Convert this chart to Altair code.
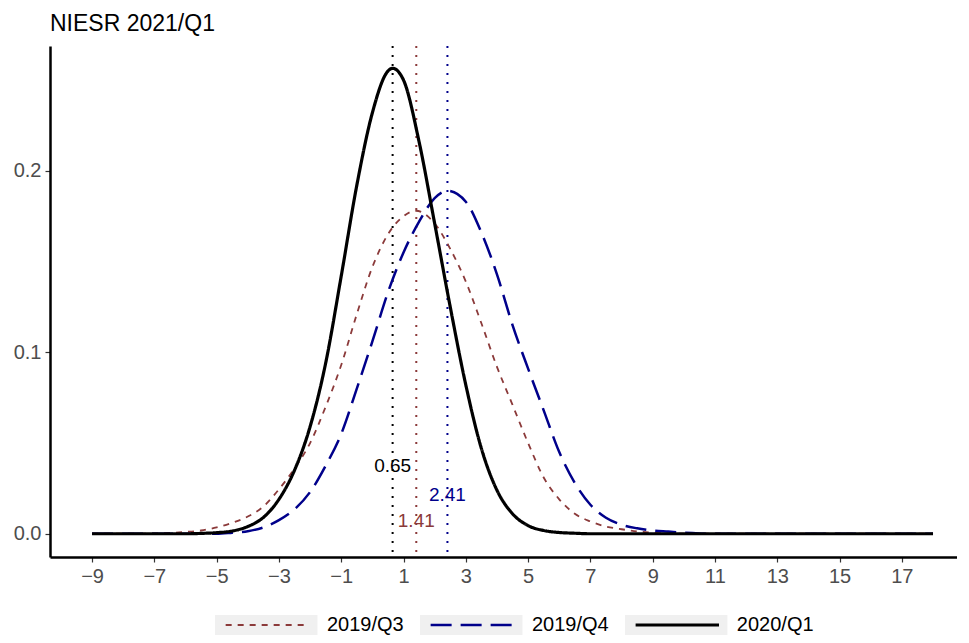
import altair as alt
import pandas as pd

# ---- data ----
series_names = ["2019/Q3", "2019/Q4", "2020/Q1"]

q3_x = [-9, -7.5, -7, -6.5, -6, -5.5, -5, -4.5, -4, -3.5, -3, -2.5, -2, -1.5, -1, -0.5, 0, 0.5, 1, 1.4,
        2, 2.5, 3, 3.5, 4, 4.5, 5, 5.5, 6, 6.5, 7, 7.5, 8, 8.5, 9, 9.5, 10, 18]
q3_y = [0, 0.0001, 0.0002, 0.0005, 0.0010, 0.0018, 0.0035, 0.0060, 0.0095, 0.0150, 0.0245, 0.0360, 0.0500,
        0.0700, 0.0930, 0.1210, 0.1470, 0.1650, 0.1750, 0.1780, 0.1710, 0.1570, 0.1390, 0.1160, 0.0920,
        0.0710, 0.0500, 0.0310, 0.0190, 0.0110, 0.0068, 0.0040, 0.0025, 0.0013, 0.0006, 0.0002, 0, 0]

q4_x = [-9, -5, -4.5, -4, -3.5, -3, -2.5, -2, -1.5, -1, -0.5, 0, 0.5, 1, 1.5, 2, 2.41, 3, 3.5, 4, 4.5,
        5, 5.5, 6, 6.5, 7, 7.5, 8, 8.5, 9, 9.5, 10, 10.5, 11, 18]
q4_y = [0, 0, 0.0006, 0.0014, 0.0035, 0.0075, 0.0135, 0.0230, 0.0375, 0.0550, 0.0800, 0.1060, 0.1330,
        0.1550, 0.1720, 0.1850, 0.1890, 0.1830, 0.1660, 0.1430, 0.1150, 0.0910, 0.0680, 0.0450, 0.0280,
        0.0160, 0.0088, 0.0050, 0.0030, 0.0018, 0.0012, 0.0006, 0.0002, 0, 0]

q1_x = [-9, -6, -5.5, -5, -4.5, -4, -3.5, -3, -2.5, -2, -1.5, -1, -0.5, 0, 0.5, 0.65, 1, 1.5, 2, 2.5,
        3, 3.5, 4, 4.5, 5, 5.5, 6, 6.5, 7, 18]
q1_y = [0, 0, 0.0002, 0.0006, 0.0015, 0.0040, 0.0090, 0.0190, 0.0350, 0.0590, 0.0940, 0.1420, 0.1920,
        0.2320, 0.2550, 0.2565, 0.2500, 0.2160, 0.1710, 0.1250, 0.0820, 0.0470, 0.0240, 0.0110, 0.0045,
        0.0018, 0.0007, 0.0003, 0, 0]

mode_values = [1.41, 2.41, 0.65]
mode_labels = ["1.41", "2.41", "0.65"]
label_heights = [0.0068, 0.0214, 0.0375]

x_ticks = list(range(-9, 18, 2))
y_ticks = [0.0, 0.1, 0.2]

# ---- styles ----
colors = ["#8B3A3A", "#00008B", "#000000"]
dashes = [[6, 6], [21, 9], [1, 0]]
widths = [1.8, 3.2, 3.8]
FONT = "Liberation Sans"

curves = pd.concat([
    pd.DataFrame({"x": q3_x, "y": q3_y, "series": series_names[0]}),
    pd.DataFrame({"x": q4_x, "y": q4_y, "series": series_names[1]}),
    pd.DataFrame({"x": q1_x, "y": q1_y, "series": series_names[2]}),
], ignore_index=True)

modes = pd.DataFrame({"series": series_names, "mode": mode_values,
                      "label": mode_labels, "ly": label_heights})

legend_df = pd.DataFrame({"series": series_names, "idx": list(range(len(series_names)))})

color_scale = alt.Scale(domain=series_names, range=colors)
dash_scale = alt.Scale(domain=series_names, range=dashes)
width_scale = alt.Scale(domain=series_names, range=widths)

xscale = alt.Scale(domain=[-10.35, 18.77], nice=False, zero=False)
yscale = alt.Scale(domain=[-0.0128, 0.2688], nice=False, zero=False)

xaxis = alt.Axis(values=x_ticks, format="d", title=None, grid=False)
yaxis = alt.Axis(values=y_ticks, format=".1f", title=None, grid=False)

base_x = alt.X("x:Q", scale=xscale, axis=xaxis)

vlines = alt.Chart(modes).mark_rule(strokeDash=[2, 7], strokeWidth=2).encode(
    x=alt.X("mode:Q", scale=xscale, axis=xaxis),
    color=alt.Color("series:N", scale=color_scale, legend=None),
)

lines = alt.Chart(curves).mark_line(interpolate="monotone").encode(
    x=base_x,
    y=alt.Y("y:Q", scale=yscale, axis=yaxis),
    color=alt.Color("series:N", scale=color_scale, legend=None),
    strokeDash=alt.StrokeDash("series:N", scale=dash_scale, legend=None),
    strokeWidth=alt.StrokeWidth("series:N", scale=width_scale, legend=None),
    order=alt.Order("x:Q"),
)

labels = alt.Chart(modes).mark_text(fontSize=19, font=FONT, baseline="middle").encode(
    x=alt.X("mode:Q", scale=xscale, axis=xaxis),
    y=alt.Y("ly:Q", scale=yscale, axis=yaxis),
    text="label:N",
    color=alt.Color("series:N", scale=color_scale, legend=None),
)

main = alt.layer(vlines, lines, labels).properties(
    width=907, height=511,
    title=alt.TitleParams("NIESR 2021/Q1", anchor="start", frame="group", fontSize=23,
                          fontWeight="normal", font=FONT, color="black", offset=9),
)

# ---- custom legend (keys with grey background) ----
lx = alt.Scale(domain=[-0.805, 3.62], nice=False, zero=False)
ly = alt.Scale(domain=[0, 1], nice=False, zero=False)

leg_base = alt.Chart(legend_df).transform_calculate(
    k0="datum.idx", k1="datum.idx + 0.5",
    s0="datum.idx + 0.052", s1="datum.idx + 0.459", t0="datum.idx + 0.546",
)

leg_box = leg_base.mark_rect(color="#F0F0F0").encode(
    x=alt.X("k0:Q", scale=lx, axis=None), x2="k1:Q",
    y=alt.datum(0, scale=ly, axis=None), y2=alt.datum(1),
)
leg_line = leg_base.mark_rule().encode(
    x=alt.X("s0:Q", scale=lx, axis=None), x2="s1:Q",
    y=alt.datum(0.5, scale=ly, axis=None),
    color=alt.Color("series:N", scale=color_scale, legend=None),
    strokeDash=alt.StrokeDash("series:N", scale=dash_scale, legend=None),
    strokeWidth=alt.StrokeWidth("series:N", scale=width_scale, legend=None),
)
leg_text = leg_base.mark_text(align="left", baseline="middle", fontSize=20, font=FONT,
                              color="black").encode(
    x=alt.X("t0:Q", scale=lx, axis=None),
    y=alt.datum(0.5, scale=ly, axis=None),
    text="series:N",
)
legend = alt.layer(leg_box, leg_line, leg_text).properties(width=907, height=20)

chart = alt.vconcat(main, legend, spacing=58, bounds="flush").properties(
    padding={"left": 5, "top": 5, "right": 0, "bottom": 0},
).configure_view(stroke=None).configure_axis(
    domainColor="black", domainWidth=2.5, tickColor="#333333", tickWidth=1.2, tickSize=5,
    labelColor="#4D4D4D", labelFontSize=20, labelFont=FONT, labelPadding=4,
).configure_concat(spacing=58)

chart.save("out.html", embed_options={"renderer": "svg", "actions": False})
